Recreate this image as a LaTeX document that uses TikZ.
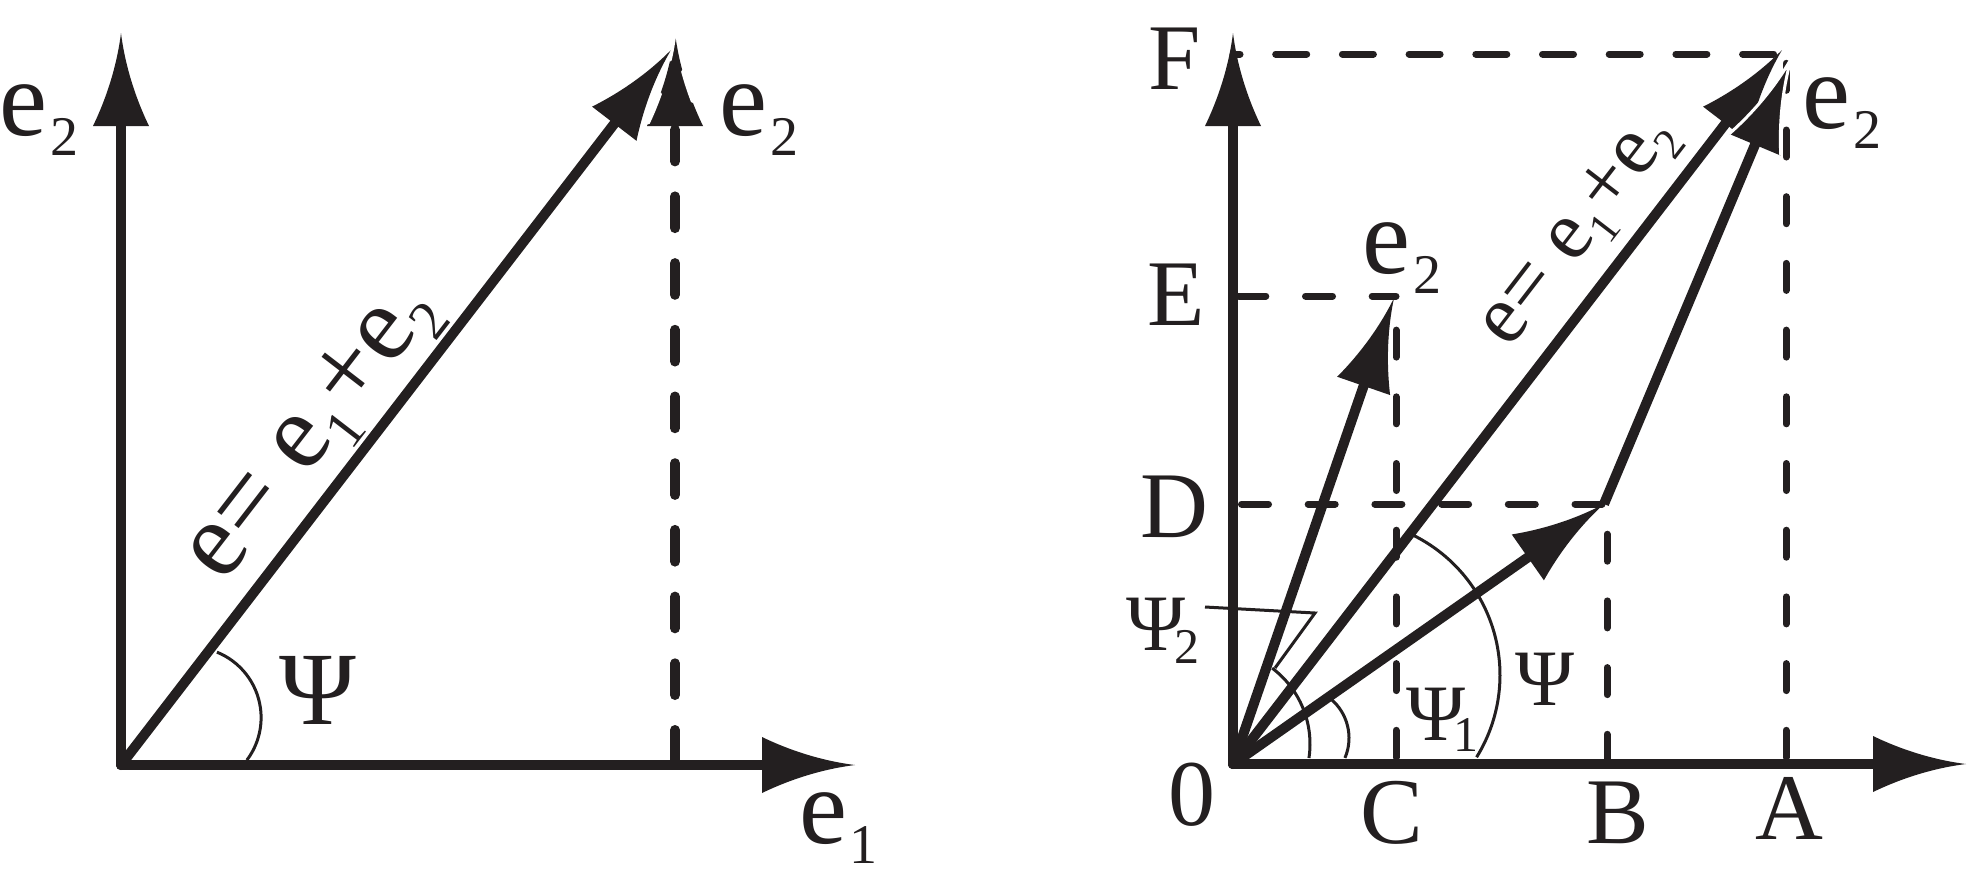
\documentclass[tikz,border=0pt]{standalone}
\usepackage{fontspec}
\setmainfont{Liberation Serif}
\usetikzlibrary{arrows.meta}
\definecolor{ink}{HTML}{231F20}
\pgfdeclarearrow{
  name = Flare,
  setup code = {
    \pgfarrowssettipend{0pt}
    \pgfarrowssetbackend{-46.5pt}
    \pgfarrowssetlineend{-30pt}
  },
  drawing code = {
    \pgfpathmoveto{\pgfqpoint{0pt}{0pt}}
    \pgfpathcurveto{\pgfqpoint{-16pt}{2pt}}{\pgfqpoint{-32pt}{7pt}}{\pgfqpoint{-46.5pt}{14pt}}
    \pgfpathlineto{\pgfqpoint{-46.5pt}{-14pt}}
    \pgfpathcurveto{\pgfqpoint{-32pt}{-7pt}}{\pgfqpoint{-16pt}{-2pt}}{\pgfqpoint{0pt}{0pt}}
    \pgfpathclose
    \pgfusepathqfill
  }
}
\pgfdeclarearrow{
  name = FlareW,
  cache = false,
  setup code = {
    \pgfarrowssettipend{0pt}
    \pgfarrowssetbackend{-46.5pt}
    \pgfarrowssetlineend{-30pt}
  },
  drawing code = {
    \pgfpathmoveto{\pgfqpoint{0pt}{0pt}}
    \pgfpathcurveto{\pgfqpoint{-16pt}{2pt}}{\pgfqpoint{-32pt}{7pt}}{\pgfqpoint{-46.5pt}{14pt}}
    \pgfpathlineto{\pgfqpoint{-46.5pt}{-14pt}}
    \pgfpathcurveto{\pgfqpoint{-32pt}{-7pt}}{\pgfqpoint{-16pt}{-2pt}}{\pgfqpoint{0pt}{0pt}}
    \pgfpathclose
    \pgfusepathqfill
    \pgfpathmoveto{\pgfqpoint{-46.5pt}{14pt}}
    \pgfpathcurveto{\pgfqpoint{-32pt}{7pt}}{\pgfqpoint{-16pt}{2pt}}{\pgfqpoint{0pt}{0pt}}
    \pgfpathcurveto{\pgfqpoint{-16pt}{-2pt}}{\pgfqpoint{-32pt}{-7pt}}{\pgfqpoint{-46.5pt}{-14pt}}
    \pgfsetstrokecolor{white}
    \pgfsetlinewidth{1.5pt}
    \pgfsetroundjoin
    \pgfusepathqstroke
  }
}
% subscript: size, drop, kern
\newcommand\dnsub[4]{\kern#3\raisebox{-#2}{\fontsize{#1}{#1}\selectfont #4}}
\begin{document}
\begin{tikzpicture}[x=0.5pt,y=-0.5pt,color=ink,
  vect/.style={line width=5pt,line cap=round,-{Flare}},
  ldash/.style={line width=5pt,line cap=round,dash pattern=on 15.85pt off 17.5pt,dash phase=31.7pt},
  rdash/.style={line width=3.5pt,line cap=round,dash pattern=on 13.5pt off 19.85pt},
  anglearc/.style={line width=1.5pt},
  elab/.style={font=\fontsize{54}{54}\selectfont,inner sep=0pt,anchor=base west},
  caplab/.style={font=\fontsize{47}{47}\selectfont,inner sep=0pt,anchor=base},
  psil/.style={font=\fontsize{52}{52}\selectfont,inner sep=0pt,anchor=base},
  psir/.style={font=\fontsize{40}{40}\selectfont,inner sep=0pt,anchor=base},
  psirw/.style={font=\fontsize{40}{40}\selectfont,inner sep=0pt,anchor=base west}]
\useasboundingbox[fill=white] (0,0) rectangle (1967,880);

% ---------------- left diagram ----------------
\coordinate (O1) at (121,765);
\coordinate (Y1) at (121,33);
\coordinate (X1) at (855,765);
\coordinate (S1) at (671,50);
\coordinate (V1) at (675,765);
\coordinate (W1) at (675,33);
\coordinate (LA) at (190.5,717.6);

\draw[vect] (O1) -- (Y1);
\draw[vect] (O1) -- (X1);
\draw[vect] (O1) -- (S1);
\draw[ldash,-{FlareW}] (V1) -- (W1);
\draw[anglearc] (LA) ++(-68:70.6) arc[start angle=-68,end angle=37,radius=70.6];

\node[elab] (l1) at (-0.7,135) {e\dnsub{28pt}{10pt}{1.5pt}{2}};
\node[elab] (l2) at (719.3,135) {e\dnsub{28pt}{10pt}{1.5pt}{2}};
\node[elab] (l3) at (799.3,843) {e\dnsub{28pt}{10pt}{1pt}{1}};
\node[psil] (lpsi) at (317.5,724) {Ψ};
\node[font=\fontsize{54}{54}\selectfont,inner sep=0pt,rotate=52.4] (lsum) at (314,434)
  {e= e\dnsub{28pt}{10pt}{0pt}{1}+e\dnsub{28pt}{10pt}{0pt}{2}};

% ---------------- right diagram ----------------
\coordinate (O2) at (1233,764);
\coordinate (Y2) at (1233,33);
\coordinate (X2) at (1966,764);
\coordinate (P) at (1604,504);
\coordinate (T) at (1791,59);
\coordinate (S2) at (1782,50);
\coordinate (Q) at (1394,298);
\coordinate (Fa) at (1233,54);
\coordinate (Fb) at (1782,54);
\coordinate (Ea) at (1233,296);
\coordinate (Eb) at (1396,296);
\coordinate (Da) at (1233,504);
\coordinate (Db) at (1604,504);
\coordinate (Cb) at (1396,764);
\coordinate (Bb) at (1607,764);
\coordinate (Bt) at (1607,504);
\coordinate (Ab) at (1786,764);
\coordinate (At) at (1786,54);

\draw[rdash,dash pattern=on 15.5pt off 17.85pt,dash phase=12pt] (Fa) -- (Fb);
\draw[rdash,dash phase=30.45pt] (Ea) -- (Eb);
\draw[rdash,dash phase=29.1pt] (Da) -- (Db);
\draw[rdash,dash phase=30pt] (Cb) -- (Eb);
\draw[rdash,dash phase=32pt] (Bb) -- (Bt);
\draw[rdash,dash phase=30pt] (Ab) -- (At);

\draw[vect] (O2) -- (Y2);
\draw[vect] (O2) -- (X2);
\draw[vect] (O2) -- (Q);
\draw[vect] (O2) -- (P);
\draw[vect] (O2) -- (S2);
\draw[line width=5pt,-{FlareW}] (P) -- (T);

\coordinate (A2) at (1215,744);
\coordinate (A1) at (1298,738);
\coordinate (A0) at (1344,675);
\draw[anglearc] (A2) ++(-53:95) arc[start angle=-53,end angle=8.5,radius=95];
\draw[anglearc] (A1) ++(-51:51) arc[start angle=-51,end angle=23,radius=51];
\draw[anglearc] (A0) ++(-64.3:156) arc[start angle=-64.3,end angle=31.8,radius=156];
\coordinate (L1) at (1205,607);
\coordinate (L2) at (1315,613);
\coordinate (L3) at (1275,668);
\draw[anglearc] (L1) -- (L2) -- (L3);

\node[caplab] (lF) at (1174.5,89) {F};
\node[caplab] (lE) at (1176,325) {E};
\node[caplab] (lD) at (1174.5,537) {D};
\node[caplab] (l0) at (1192,825) {0};
\node[caplab] (lC) at (1392,843) {C};
\node[caplab] (lB) at (1618,843) {B};
\node[caplab] (lA) at (1789,839) {A};
\node[psir] (rpsi) at (1544.5,705) {Ψ};
\node[psirw] (rpsi1) at (1406.4,740) {Ψ\dnsub{25pt}{5.5pt}{-6pt}{1}};
\node[psirw] (rpsi2) at (1126.4,650) {Ψ\dnsub{25pt}{6.5pt}{-5.5pt}{2}};
\node[elab] (r1) at (1362.3,273) {e\dnsub{28pt}{10pt}{1.5pt}{2}};
\node[elab] (r2) at (1802.3,128) {e\dnsub{28pt}{10pt}{1.5pt}{2}};
\node[font=\fontsize{42}{42}\selectfont,inner sep=0pt,rotate=52.4] (rsum) at (1580,232)
  {e= e\dnsub{22pt}{8pt}{0pt}{1}+e\dnsub{22pt}{8pt}{0pt}{2}};
\end{tikzpicture}
\end{document}
